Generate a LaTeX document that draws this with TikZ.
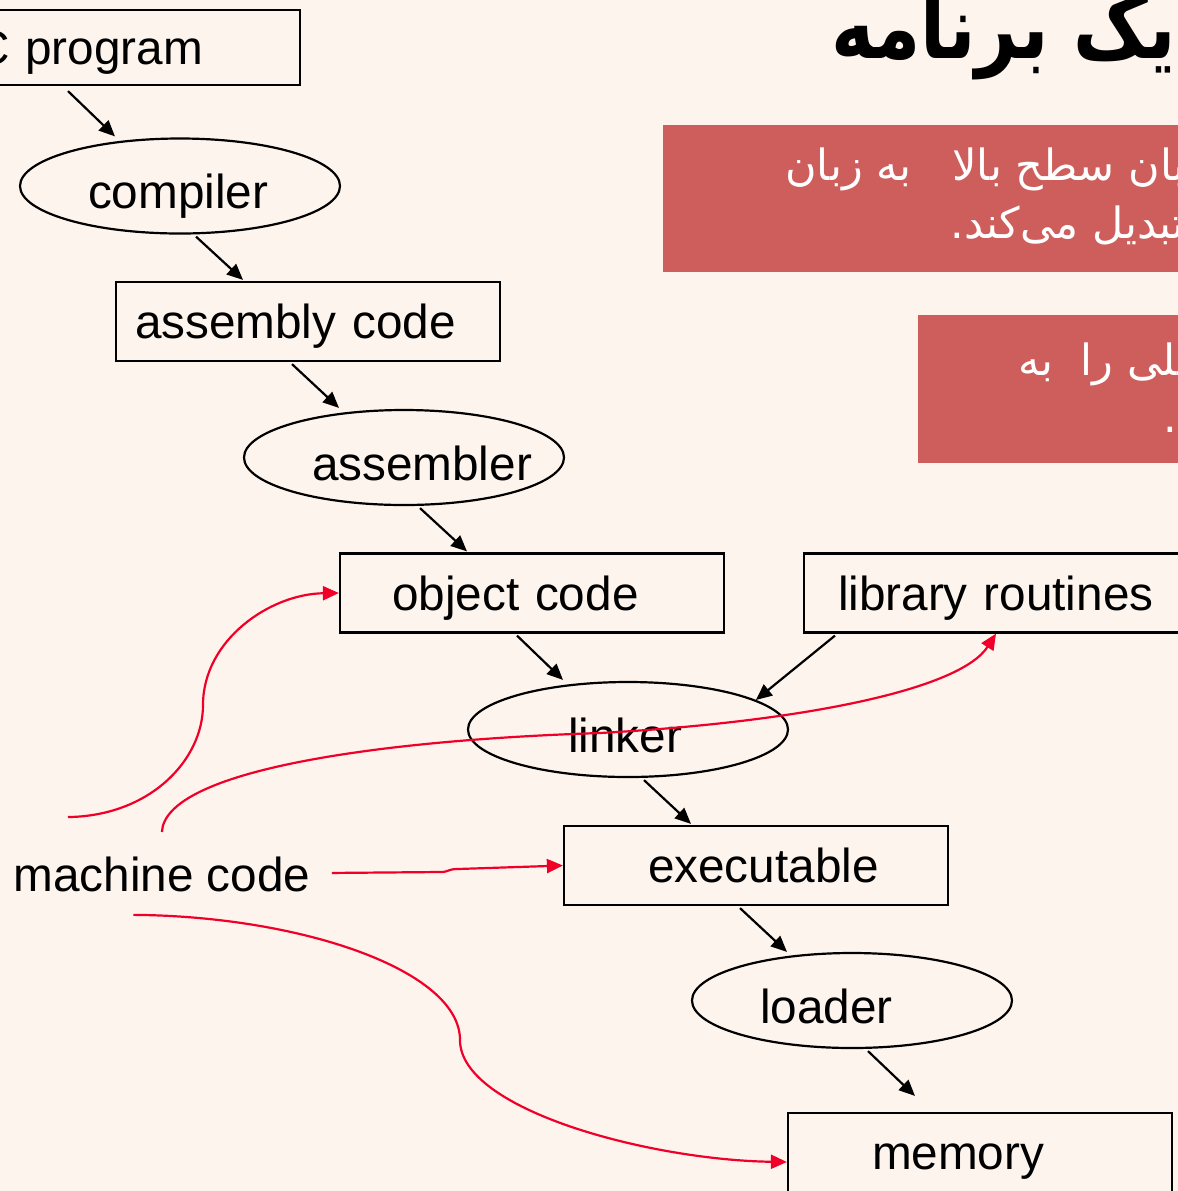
\documentclass[tikz,border=0pt]{standalone}
\usepackage{fontspec}
\setmainfont{Liberation Sans}
\newfontfamily\farsi[Script=Arabic]{DejaVu Sans}
\newfontfamily\titlefont[Script=Arabic,FakeStretch=0.83]{DejaVu Sans}
\TeXXeTstate=1
\hyphenpenalty=10000
\usetikzlibrary{shapes.geometric,arrows.meta}
\definecolor{paper}{RGB}{253,244,238}
\definecolor{note}{RGB}{205,94,92}
\definecolor{link}{RGB}{240,0,40}

\begin{document}
\begin{tikzpicture}[x=0.5pt,y=-0.5pt,
	every node/.style={font=\fontsize{23.85}{28}\selectfont},
	box/.style={draw, line width=1.1pt, minimum height=39.5pt, inner xsep=#1,
		text width=192pt-2*#1, align=left, text height=22pt, text depth=5pt},
	tool/.style={draw, ellipse, line width=1.1pt, minimum width=160pt, minimum height=47.5pt,
		inner sep=0pt, text width=92pt, align=left, text height=27.5pt, text depth=5pt},
	say/.style={inner sep=0pt, anchor=base west, text=white, font=\farsi\fontsize{21.5}{26}\selectfont},
	arr/.style={-{Triangle[length=8pt,width=7pt]}, line width=1.1pt},
	feed/.style={arr, color=link}]
	\useasboundingbox (0,0) rectangle (1178,1191);
	\clip (0,0) rectangle (1178,1191);
	\fill[paper] (0,0) rectangle (1178,1191);
	% Title and the two notes
	\node[inner sep=0pt, anchor=base west, font=\titlefont\bfseries\fontsize{44}{48}\selectfont] (title) at (831,58) {\beginR یک برنامه\endR};
	\fill[note] (663,125) rectangle (1190,272);
	\fill[note] (918,315) rectangle (1190,463);
	\node[say] (n1a) at (785,180) {\beginR زبان سطح بالا \ \ به زبان\endR};
	\node[say] (n1b) at (950,238) {\beginR تبدیل می‌کند.\endR};
	\node[say] (n2a) at (1018,375) {\beginR اسمبلی را \ به\endR};
	\node[say] (n2b) at (1163,432) {\beginR تبدیل می‌کند.\endR};
	% The translation chain
	\node[box=29.5pt, minimum height=37.5pt] (cprog) at (108,47.5) {C~program};
	\node[tool]   (comp) at (180,186)    {compiler};
	\node[box=9.5pt]  (asmc) at (308,321.5)  {assembly~code};
	\node[tool]   (asm)  at (404,457.5)  {assembler};
	\node[box=26pt]   (obj)  at (532,593)    {object~code};
	\node[box=17pt]   (lib)  at (996,593)    {library~routines};
	\node[tool, text width=60pt] (link) at (628,729.5) {linker};
	\node[box=42pt]   (exe)  at (756,865.5)  {executable};
	\node[tool]   (load) at (852,1000.5) {loader};
	\node[box=42pt]   (mem)  at (980,1152.5) {memory};
	\node[inner sep=0pt, anchor=base west] (mc) at (13,891) {machine code};
	% Black arrows down the chain
	\draw[arr] ([shift={(-40,5)}]cprog.south) -- ([shift={(-65,-1)}]comp.north);
	\draw[arr] ([shift={(16,2)}]comp.south) -- ([shift={(-65,-1)}]asmc.north);
	\draw[arr] ([shift={(-16,2)}]asmc.south) -- ([shift={(-65,-1)}]asm.north);
	\draw[arr] ([shift={(16,2)}]asm.south) -- ([shift={(-65,-1)}]obj.north);
	\draw[arr] ([shift={(-15,2)}]obj.south) -- ([shift={(-65,-1)}]link.north);
	\draw[arr] ([shift={(-161,2)}]lib.south) -- (link.13);
	\draw[arr] ([shift={(16,2)}]link.south) -- ([shift={(-65,-1)}]exe.north);
	\draw[arr] ([shift={(-16,2)}]exe.south) -- ([shift={(-65,0)}]load.north);
	\draw[arr] ([shift={(16,2)}]load.south) -- ([shift={(-65,-16)}]mem.north);
	% Red arrows from machine code
	\draw[feed] ([shift={(55,-39)}]mc.north west) .. controls (150,816) and (203,760) .. (203,705)
		.. controls (203,640) and (270,594) .. (obj.west);
	\draw[feed] ([shift={(0,-24)}]mc.north) .. controls (165,770) and (380,740) .. (600,733)
		.. controls (800,722) and (960,690) .. (lib.south);
	\draw[feed] ([shift={(21,-1)}]mc.east) -- (440,872) .. controls (450,872) and (447,869) .. (458,869) -- (exe.west);
	\draw[feed] ([shift={(-28.5,23)}]mc.south) .. controls (300,916) and (460,970) .. (460,1040)
		.. controls (460,1110) and (650,1160) .. ([shift={(0,9.5)}]mem.west);
\end{tikzpicture}
\end{document}
